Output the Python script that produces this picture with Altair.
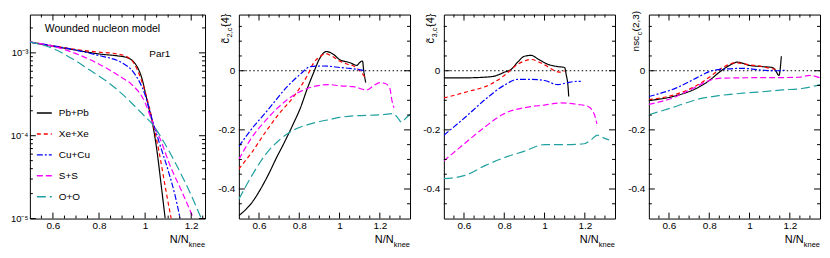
import altair as alt
import pandas as pd

FONT = "Liberation Sans"
systems = ["Pb+Pb", "Xe+Xe", "Cu+Cu", "S+S", "O+O"]
colors = ["#000000", "#ff0000", "#0000ff", "#ff00ff", "#20a0a0"]
dashes = [[1, 0], [4, 3], [6, 2, 2, 2], [6, 3], [9, 4]]

# ---- Panel 1: Par1 (log scale) ----
pb_x1 = [0.5, 0.6, 0.7, 0.8, 0.88, 0.92, 0.95, 0.968, 0.989, 1.003, 1.017, 1.03, 1.05, 1.07, 1.087]
pb_y1 = [1.35e-3, 1.2e-3, 1.08e-3, 9.7e-4, 9.2e-4, 8.8e-4, 7.8e-4, 6.6e-4, 4.6e-4, 3.1e-4, 2.1e-4, 1.5e-4, 7.0e-5, 2.5e-5, 1.0e-5]
xe_x1 = [0.5, 0.6, 0.7, 0.8, 0.88, 0.92, 0.95, 0.98, 1.0, 1.03, 1.06, 1.09, 1.113]
xe_y1 = [1.35e-3, 1.22e-3, 1.1e-3, 1.02e-3, 9.7e-4, 9.0e-4, 7.6e-4, 5.0e-4, 3.4e-4, 1.6e-4, 6.5e-5, 2.2e-5, 1.0e-5]
cu_x1 = [0.5, 0.6, 0.7, 0.8, 0.85, 0.9, 0.95, 1.0, 1.03, 1.06, 1.1, 1.13, 1.152]
cu_y1 = [1.35e-3, 1.22e-3, 1.08e-3, 9.3e-4, 8.6e-4, 7.6e-4, 5.8e-4, 3.1e-4, 1.6e-4, 8.5e-5, 3.8e-5, 1.9e-5, 1.0e-5]
s_x1 = [0.5, 0.6, 0.7, 0.76, 0.83, 0.9, 0.94, 1.0, 1.03, 1.07, 1.105, 1.16, 1.21]
s_y1 = [1.35e-3, 1.2e-3, 9.8e-4, 8.3e-4, 6.6e-4, 5.0e-4, 4.2e-4, 2.5e-4, 1.5e-4, 8.5e-5, 4.6e-5, 2.1e-5, 1.0e-5]
o_x1 = [0.5, 0.6, 0.69, 0.76, 0.83, 0.9, 0.94, 1.0, 1.03, 1.08, 1.133, 1.19, 1.244]
o_y1 = [1.35e-3, 1.13e-3, 8.3e-4, 6.2e-4, 4.6e-4, 3.2e-4, 2.5e-4, 1.7e-4, 1.4e-4, 8.5e-5, 4.6e-5, 2.2e-5, 1.0e-5]

# ---- Panel 2: c2,c{4} ----
pb_x2 = [0.5, 0.56, 0.64, 0.69, 0.724, 0.77, 0.806, 0.84, 0.872, 0.9, 0.935, 0.97, 1.0, 1.053, 1.086, 1.1, 1.114, 1.12, 1.13]
pb_y2 = [-0.49, -0.45, -0.36, -0.29, -0.245, -0.18, -0.125, -0.06, -0.005, 0.04, 0.065, 0.055, 0.038, 0.027, 0.018, 0.028, 0.033, 0.0, -0.04]
xe_x2 = [0.5, 0.56, 0.64, 0.7, 0.773, 0.84, 0.872, 0.905, 0.93, 0.96, 1.0, 1.04, 1.07, 1.1, 1.13]
xe_y2 = [-0.332, -0.28, -0.2, -0.145, -0.087, -0.016, 0.027, 0.049, 0.058, 0.05, 0.033, 0.022, 0.016, 0.0, -0.025]
cu_x2 = [0.5, 0.56, 0.64, 0.74, 0.806, 0.855, 0.905, 0.95, 1.0, 1.05, 1.086, 1.13]
cu_y2 = [-0.256, -0.2, -0.136, -0.054, -0.011, 0.014, 0.016, 0.015, 0.011, 0.008, 0.005, 0.0]
s_x2 = [0.5, 0.56, 0.64, 0.74, 0.84, 0.905, 0.95, 1.0, 1.07, 1.135, 1.17, 1.2, 1.23, 1.25, 1.26, 1.27]
s_y2 = [-0.3, -0.23, -0.163, -0.098, -0.06, -0.049, -0.047, -0.051, -0.054, -0.065, -0.05, -0.04, -0.044, -0.06, -0.1, -0.125]
o_x2 = [0.5, 0.56, 0.64, 0.7, 0.773, 0.83, 0.888, 0.95, 1.0, 1.086, 1.17, 1.22, 1.267, 1.29, 1.308, 1.33, 1.35]
o_y2 = [-0.435, -0.36, -0.277, -0.235, -0.2, -0.185, -0.174, -0.165, -0.158, -0.152, -0.15, -0.148, -0.145, -0.16, -0.174, -0.16, -0.147]

# ---- Panel 3: c3,c{4} ----
pb_x3 = [0.5, 0.605, 0.737, 0.77, 0.8, 0.835, 0.868, 0.9, 0.934, 0.967, 1.016, 1.066, 1.1, 1.107, 1.118, 1.12]
pb_y3 = [-0.024, -0.024, -0.02, -0.014, -0.005, 0.005, 0.03, 0.049, 0.052, 0.04, 0.022, 0.014, 0.011, -0.011, -0.065, -0.087]
xe_x3 = [0.5, 0.605, 0.737, 0.8, 0.868, 0.934, 0.98, 1.02, 1.05, 1.08, 1.1]
xe_y3 = [-0.092, -0.073, -0.044, -0.016, 0.022, 0.038, 0.027, 0.012, 0.0, -0.005, 0.0]
cu_x3 = [0.5, 0.605, 0.704, 0.8, 0.868, 0.934, 1.0, 1.066, 1.115, 1.164, 1.18]
cu_y3 = [-0.218, -0.158, -0.098, -0.049, -0.029, -0.029, -0.033, -0.047, -0.04, -0.036, -0.036]
s_x3 = [0.5, 0.605, 0.704, 0.8, 0.9, 1.0, 1.082, 1.164, 1.214, 1.247, 1.26]
s_y3 = [-0.305, -0.245, -0.19, -0.145, -0.125, -0.116, -0.109, -0.114, -0.12, -0.147, -0.18]
o_x3 = [0.5, 0.605, 0.704, 0.8, 0.9, 1.0, 1.1, 1.197, 1.23, 1.263, 1.296, 1.32]
o_y3 = [-0.365, -0.354, -0.321, -0.294, -0.272, -0.25, -0.25, -0.247, -0.234, -0.218, -0.228, -0.234]

# ---- Panel 4: nsc_c(2,3) ----
pb_x4 = [0.5, 0.637, 0.735, 0.8, 0.85, 0.9, 0.94, 1.0, 1.064, 1.113, 1.13, 1.146, 1.158]
pb_y4 = [-0.101, -0.084, -0.06, -0.033, -0.005, 0.018, 0.029, 0.018, 0.014, 0.011, 0.0, -0.016, 0.049]
xe_x4 = [0.5, 0.637, 0.735, 0.8, 0.867, 0.933, 1.0, 1.064, 1.1, 1.13]
xe_y4 = [-0.098, -0.079, -0.051, -0.022, 0.011, 0.027, 0.02, 0.014, 0.008, 0.005]
cu_x4 = [0.5, 0.637, 0.735, 0.8, 0.867, 0.966, 1.064, 1.13, 1.18]
cu_y4 = [-0.087, -0.058, -0.025, -0.003, 0.005, 0.008, 0.002, 0.0, 0.002]
s_x4 = [0.5, 0.637, 0.735, 0.8, 0.867, 0.966, 1.064, 1.163, 1.245, 1.3, 1.35]
s_y4 = [-0.114, -0.087, -0.054, -0.033, -0.025, -0.024, -0.023, -0.023, -0.022, -0.016, -0.024]
o_x4 = [0.5, 0.637, 0.735, 0.85, 0.966, 1.064, 1.163, 1.26, 1.327, 1.35]
o_y4 = [-0.149, -0.12, -0.098, -0.084, -0.076, -0.071, -0.065, -0.06, -0.051, -0.047]

# tick positions
x_major = [0.6, 0.8, 1.0, 1.2]
x_minor = [0.55, 0.65, 0.7, 0.75, 0.85, 0.9, 0.95, 1.05, 1.1, 1.15, 1.25, 1.3]
y_major = [-0.4, -0.2, 0.0]
y_minor = [-0.45, -0.35, -0.3, -0.25, -0.15, -0.1, -0.05, 0.05, 0.1, 0.15]
y1_major = [1e-5, 1e-4, 1e-3]
y1_minor = [2e-5, 3e-5, 4e-5, 5e-5, 6e-5, 7e-5, 8e-5, 9e-5,
            2e-4, 3e-4, 4e-4, 5e-4, 6e-4, 7e-4, 8e-4, 9e-4, 2e-3]

W1, W, H = 176, 172, 205
X1_DOM = [0.5, 1.26]
X_DOM = [0.5, 1.35]
Y1_DOM = [1e-5, 2.9e-3]
Y_DOM = [-0.5, 0.19]


def long_df(xs, ys):
    rows = []
    for s, xx, yy in zip(systems, xs, ys):
        for i, (a, b) in enumerate(zip(xx, yy)):
            rows.append({"sys": s, "x": a, "y": b, "i": i})
    return pd.DataFrame(rows)


one = pd.DataFrame({"a": [0]})


def text(t, x, y, size=10, align="left", baseline="middle", angle=0):
    kw = dict(font=FONT, fontSize=size, align=align, baseline=baseline, color="black")
    if angle:
        kw["angle"] = angle
    return alt.Chart(one).mark_text(**kw).encode(
        x=alt.value(x), y=alt.value(y), text=alt.value(t))


def panel(df, width, xdom, ydom, ylog, yvals, ylabelexpr, xmin_ticks, ymaj, ymin,
          legend=None, extras=()):
    xs = alt.Scale(domain=xdom, nice=False, zero=False)
    if ylog:
        ys = alt.Scale(type="log", domain=ydom, nice=False)
    else:
        ys = alt.Scale(domain=ydom, nice=False, zero=False)
    xaxis = alt.Axis(values=x_major, format="~g", ticks=False, domain=False, grid=False,
                     labelFont=FONT, labelFontSize=10, labelPadding=2, title=None,
                     labelColor="black", labelFlush=False)
    yaxis = alt.Axis(values=yvals, labelExpr=ylabelexpr, ticks=False, domain=False, grid=False,
                     labelFont=FONT, labelFontSize=9.5 if ylog else 10,
                     labelPadding=2 if ylog else 4,
                     title=None, labelColor="black", labelFlush=False)
    lines = alt.Chart(df).mark_line(strokeWidth=1.2, clip=True, interpolate="monotone").encode(
        x=alt.X("x:Q", scale=xs, axis=xaxis),
        y=alt.Y("y:Q", scale=ys, axis=yaxis),
        color=alt.Color("sys:N", scale=alt.Scale(domain=systems, range=colors), legend=legend),
        strokeDash=alt.StrokeDash("sys:N", scale=alt.Scale(domain=systems, range=dashes), legend=legend),
        order=alt.Order("i:Q"),
    )
    layers = []
    if not ylog:
        layers.append(alt.Chart(pd.DataFrame({"z": [0.0]})).mark_rule(
            color="black", strokeDash=[1.5, 2.5], strokeWidth=1).encode(
            y=alt.Y("z:Q", scale=ys, axis=yaxis)))
    layers.append(lines)
    for vals, L in ((x_major, 6), (xmin_ticks, 3)):
        base = alt.Chart(pd.DataFrame({"v": vals})).mark_rule(color="black", strokeWidth=1)
        layers.append(base.encode(x=alt.X("v:Q", scale=xs, axis=xaxis),
                                  y=alt.value(H), y2=alt.value(H - L)))
        layers.append(base.encode(x=alt.X("v:Q", scale=xs, axis=xaxis),
                                  y=alt.value(0), y2=alt.value(L)))
    for vals, L in ((ymaj, 6), (ymin, 3)):
        base = alt.Chart(pd.DataFrame({"v": vals})).mark_rule(color="black", strokeWidth=1)
        layers.append(base.encode(y=alt.Y("v:Q", scale=ys, axis=yaxis),
                                  x=alt.value(0), x2=alt.value(L)))
        layers.append(base.encode(y=alt.Y("v:Q", scale=ys, axis=yaxis),
                                  x=alt.value(width), x2=alt.value(width - L)))
    # x title N/N_knee
    layers.append(text("N/N", width - 16.5, H + 22, size=11, align="right"))
    layers.append(text("knee", width, H + 27, size=7.5, align="right"))
    layers.extend(extras)
    return alt.layer(*layers).properties(width=width, height=H)


lin_label = "datum.value == 0 ? '0' : '-' + format(abs(datum.value), '~g')"
log_label = "datum.value < 5e-5 ? '10⁻⁵' : (datum.value < 5e-4 ? '10⁻⁴' : '10⁻³')"

legend = alt.Legend(title=None, orient="none", legendX=6, legendY=90.5, symbolType="stroke",
                    symbolSize=225, symbolStrokeWidth=1.5, labelFont=FONT, labelFontSize=10,
                    labelColor="black", labelOffset=6, rowPadding=7, padding=0)

p1 = panel(long_df([pb_x1, xe_x1, cu_x1, s_x1, o_x1], [pb_y1, xe_y1, cu_y1, s_y1, o_y1]),
           W1, X1_DOM, Y1_DOM, True, y1_major, log_label,
           [v for v in x_minor if v < 1.26], y1_major, y1_minor, legend=legend,
           extras=[text("Wounded nucleon model", 15, 15, size=10.5),
                   text("Par1", 120, 40, size=10)])


def ytitle(main, sub, tail, main_size=11, sub_size=7.5):
    wm = {"c̃": 5.5, "nsc": 15.6}[main]
    y0 = 29 if main == "c̃" else 37
    ws = len(sub) * 0.45 * sub_size if "," in sub else 0.5 * sub_size
    return [
        text(main, -10, y0, size=main_size, baseline="alphabetic", angle=270),
        text(sub, -7, y0 - wm - 0.5, size=sub_size, baseline="alphabetic", angle=270),
        text(tail, -10, y0 - wm - ws - 1, size=main_size, baseline="alphabetic", angle=270),
    ]


p2 = panel(long_df([pb_x2, xe_x2, cu_x2, s_x2, o_x2], [pb_y2, xe_y2, cu_y2, s_y2, o_y2]),
           W, X_DOM, Y_DOM, False, y_major, lin_label, x_minor, y_major, y_minor,
           extras=ytitle("c̃", "2,c", "{4}"))
p3 = panel(long_df([pb_x3, xe_x3, cu_x3, s_x3, o_x3], [pb_y3, xe_y3, cu_y3, s_y3, o_y3]),
           W, X_DOM, Y_DOM, False, y_major, lin_label, x_minor, y_major, y_minor,
           extras=ytitle("c̃", "3,c", "{4}"))
p4 = panel(long_df([pb_x4, xe_x4, cu_x4, s_x4, o_x4], [pb_y4, xe_y4, cu_y4, s_y4, o_y4]),
           W, X_DOM, Y_DOM, False, y_major, lin_label, x_minor, y_major, y_minor,
           extras=ytitle("nsc", "c", "(2,3)", main_size=10, sub_size=7))

chart = alt.hconcat(p1, p2, p3, p4, spacing=34, bounds="flush").resolve_scale(
    color="independent", strokeDash="independent", x="independent", y="independent"
).properties(
    padding={"left": 1, "top": 1, "right": 1, "bottom": 1}, background="white"
).configure_view(stroke="black", strokeWidth=1)

chart.save("out.html", embed_options={"renderer": "svg", "actions": False})
